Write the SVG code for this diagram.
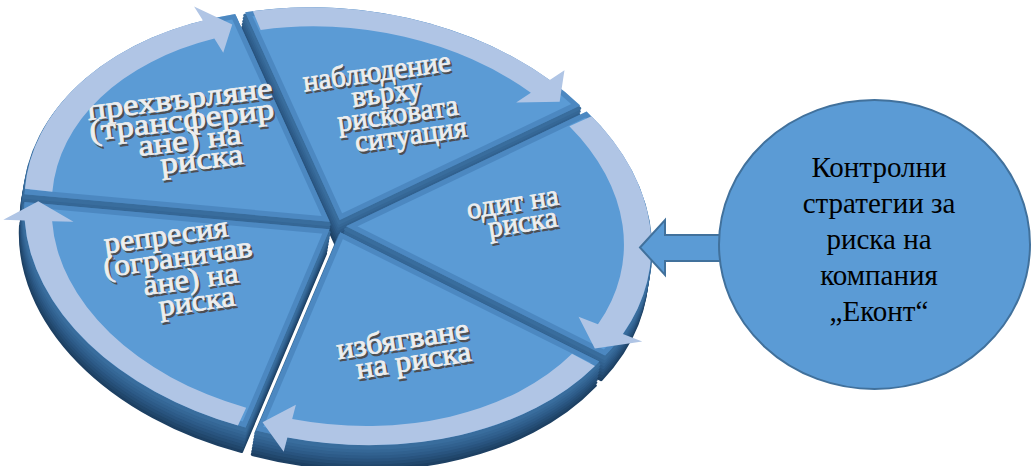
<svg xmlns="http://www.w3.org/2000/svg" width="1032" height="466" viewBox="0 0 1032 466">
  <defs>
    <style>
      .face{fill:#5b9bd5}
      .bevel{fill:none;stroke:#3a72a9;stroke-width:10;opacity:.45}
      .side use{stroke-width:3;stroke-linejoin:round}
      .d8{fill:#1d4063;stroke:#1d4063}
      .d7{fill:#21476c;stroke:#21476c}
      .d6{fill:#254e76;stroke:#254e76}
      .d5{fill:#29547f;stroke:#29547f}
      .d4{fill:#2d5b88;stroke:#2d5b88}
      .d3{fill:#31618f;stroke:#31618f}
      .d2{fill:#356796;stroke:#356796}
      .d1{fill:#396d9d;stroke:#396d9d}
      .ring{fill:#b0c5e5}
      .lbl text{font-family:"Liberation Serif","Times New Roman",serif;font-size:30px;text-anchor:middle}
      .lbl .sh{fill:#4a3a2f;stroke:#4a3a2f;stroke-width:.8;opacity:.8}
      .lbl .tx{fill:#eeeeee;stroke:#eeeeee;stroke-width:.8}
      .blk{fill:#5b9bd5;stroke:#41719c;stroke-width:2}
      .ctext{font-family:"Liberation Serif","Times New Roman",serif;font-size:29px;fill:#000;text-anchor:middle}
    </style>
    <!-- pie sectors on a unit disc of radius 100, mapped onto the tilted ellipse by matrix -->
    <path id="s1" vector-effect="non-scaling-stroke" d="M0 0 L-99.86 5.23 A100 100 0 0 1 -39.07 -92.05 Z"/>
    <path id="s2" vector-effect="non-scaling-stroke" d="M0 0 L-39.07 -92.05 A100 100 0 0 1 73.14 -68.2 Z"/>
    <path id="s3" vector-effect="non-scaling-stroke" d="M0 0 L73.14 -68.2 A100 100 0 0 1 89.1 45.4 Z"/>
    <path id="s4" vector-effect="non-scaling-stroke" d="M0 0 L89.1 45.4 A100 100 0 0 1 -19.08 98.16 Z"/>
    <path id="s5" vector-effect="non-scaling-stroke" d="M0 0 L-19.08 98.16 A100 100 0 0 1 -99.86 5.23 Z"/>
    <!-- curved rim arrows -->
    <path id="a1" d="M-99.97 2.62 A100 100 0 0 1 -49.24 -87.04 L-52.69 -93.13 L-39.6 -86.9 L-41.36 -73.11 L-44.81 -79.2 A91 91 0 0 0 -90.97 2.38 Z"/>
    <path id="a2" d="M-36.65 -93.04 A100 100 0 0 1 62.25 -78.26 L66.61 -83.74 L66.34 -68.7 L52.29 -65.74 L56.65 -71.22 A91 91 0 0 0 -33.35 -84.67 Z"/>
    <path id="a3" d="M74.9 -66.26 A100 100 0 0 1 93.97 34.2 L100.55 36.6 L85.47 42.61 L78.93 28.73 L85.51 31.12 A91 91 0 0 0 68.16 -60.3 Z"/>
    <path id="a4" d="M87.88 47.72 A100 100 0 0 1 -8.72 99.62 L-9.33 106.59 L-17.4 93.9 L-7.32 83.68 L-7.93 90.65 A91 91 0 0 0 79.97 43.42 Z"/>
    <path id="a5" d="M-21.64 97.63 A100 100 0 0 1 -99.03 13.92 L-105.96 14.89 L-95.41 4.17 L-83.18 11.69 L-90.11 12.66 A91 91 0 0 0 -19.7 88.84 Z"/>
    <clipPath id="c1"><use href="#s1"/></clipPath>
    <clipPath id="c2"><use href="#s2"/></clipPath>
    <clipPath id="c3"><use href="#s3"/></clipPath>
    <clipPath id="c4"><use href="#s4"/></clipPath>
    <clipPath id="c5"><use href="#s5"/></clipPath>
  </defs>

  <!-- slice: monitoring -->
  <g id="node-monitoring" transform="translate(2.7,-5.9)">
    <g class="side">
      <use href="#s2" class="d8" transform="matrix(3.0418 0.3843 -0.2646 2.0943 333 250)"/>
      <use href="#s2" class="d7" transform="matrix(3.0418 0.3843 -0.2646 2.0943 333.5 247)"/>
      <use href="#s2" class="d6" transform="matrix(3.0418 0.3843 -0.2646 2.0943 334 244)"/>
      <use href="#s2" class="d5" transform="matrix(3.0418 0.3843 -0.2646 2.0943 334.5 241)"/>
      <use href="#s2" class="d4" transform="matrix(3.0418 0.3843 -0.2646 2.0943 335 238)"/>
      <use href="#s2" class="d3" transform="matrix(3.0418 0.3843 -0.2646 2.0943 335.5 235)"/>
      <use href="#s2" class="d2" transform="matrix(3.0418 0.3843 -0.2646 2.0943 336 232)"/>
      <use href="#s2" class="d1" transform="matrix(3.0418 0.3843 -0.2646 2.0943 336.5 229)"/>
    </g>
    <use href="#s2" class="face" transform="matrix(3.0418 0.3843 -0.2646 2.0943 337 226)"/>
    <g transform="matrix(3.0418 0.3843 -0.2646 2.0943 337 226)"><use href="#s2" class="bevel" clip-path="url(#c2)"/></g>
    <g class="lbl">
      <text class="sh" transform="translate(377.1,89.1) rotate(-8) scale(0.97,1)">наблюдение</text>
      <text class="tx" transform="translate(375.3,86.9) rotate(-8) scale(0.97,1)">наблюдение</text>
      <text class="sh" transform="translate(387.1,110.1) rotate(-8) scale(0.97,1)">върху</text>
      <text class="tx" transform="translate(385.3,107.9) rotate(-8) scale(0.97,1)">върху</text>
      <text class="sh" transform="translate(398.1,131.1) rotate(-8) scale(0.97,1)">рисковата</text>
      <text class="tx" transform="translate(396.3,128.9) rotate(-8) scale(0.97,1)">рисковата</text>
      <text class="sh" transform="translate(411.1,152.1) rotate(-8) scale(0.97,1)">ситуация</text>
      <text class="tx" transform="translate(409.3,149.9) rotate(-8) scale(0.97,1)">ситуация</text>
    </g>
  </g>

  <!-- slice: transfer -->
  <g id="node-transfer" transform="translate(-7.3,-4.3)">
    <g class="side">
      <use href="#s1" class="d8" transform="matrix(3.0418 0.3843 -0.2646 2.0943 333 250)"/>
      <use href="#s1" class="d7" transform="matrix(3.0418 0.3843 -0.2646 2.0943 333.5 247)"/>
      <use href="#s1" class="d6" transform="matrix(3.0418 0.3843 -0.2646 2.0943 334 244)"/>
      <use href="#s1" class="d5" transform="matrix(3.0418 0.3843 -0.2646 2.0943 334.5 241)"/>
      <use href="#s1" class="d4" transform="matrix(3.0418 0.3843 -0.2646 2.0943 335 238)"/>
      <use href="#s1" class="d3" transform="matrix(3.0418 0.3843 -0.2646 2.0943 335.5 235)"/>
      <use href="#s1" class="d2" transform="matrix(3.0418 0.3843 -0.2646 2.0943 336 232)"/>
      <use href="#s1" class="d1" transform="matrix(3.0418 0.3843 -0.2646 2.0943 336.5 229)"/>
    </g>
    <use href="#s1" class="face" transform="matrix(3.0418 0.3843 -0.2646 2.0943 337 226)"/>
    <g transform="matrix(3.0418 0.3843 -0.2646 2.0943 337 226)"><use href="#s1" class="bevel" clip-path="url(#c1)"/></g>
    <g class="lbl">
      <text class="sh" transform="translate(189.9,115.2) rotate(-7) scale(1.16,1)">прехвърляне</text>
      <text class="tx" transform="translate(188.1,113) rotate(-7) scale(1.16,1)">прехвърляне</text>
      <text class="sh" transform="translate(191.9,136.2) rotate(-7) scale(1.16,1)">(трансферир</text>
      <text class="tx" transform="translate(190.1,134) rotate(-7) scale(1.16,1)">(трансферир</text>
      <text class="sh" transform="translate(199.9,156.2) rotate(-7) scale(1.16,1)">ане) на</text>
      <text class="tx" transform="translate(198.1,154) rotate(-7) scale(1.16,1)">ане) на</text>
      <text class="sh" transform="translate(211.9,175.2) rotate(-7) scale(1.16,1)">риска</text>
      <text class="tx" transform="translate(210.1,173) rotate(-7) scale(1.16,1)">риска</text>
    </g>
  </g>

  <!-- slice: audit -->
  <g id="node-audit" transform="translate(9.1,0.3)">
    <g class="side">
      <use href="#s3" class="d8" transform="matrix(3.0418 0.3843 -0.2646 2.0943 333 250)"/>
      <use href="#s3" class="d7" transform="matrix(3.0418 0.3843 -0.2646 2.0943 333.5 247)"/>
      <use href="#s3" class="d6" transform="matrix(3.0418 0.3843 -0.2646 2.0943 334 244)"/>
      <use href="#s3" class="d5" transform="matrix(3.0418 0.3843 -0.2646 2.0943 334.5 241)"/>
      <use href="#s3" class="d4" transform="matrix(3.0418 0.3843 -0.2646 2.0943 335 238)"/>
      <use href="#s3" class="d3" transform="matrix(3.0418 0.3843 -0.2646 2.0943 335.5 235)"/>
      <use href="#s3" class="d2" transform="matrix(3.0418 0.3843 -0.2646 2.0943 336 232)"/>
      <use href="#s3" class="d1" transform="matrix(3.0418 0.3843 -0.2646 2.0943 336.5 229)"/>
    </g>
    <use href="#s3" class="face" transform="matrix(3.0418 0.3843 -0.2646 2.0943 337 226)"/>
    <g transform="matrix(3.0418 0.3843 -0.2646 2.0943 337 226)"><use href="#s3" class="bevel" clip-path="url(#c3)"/></g>
    <g class="lbl">
      <text class="sh" transform="translate(506.7,213.6) rotate(-9) scale(0.97,1)">одит на</text>
      <text class="tx" transform="translate(504.9,211.4) rotate(-9) scale(0.97,1)">одит на</text>
      <text class="sh" transform="translate(516.7,233.6) rotate(-9) scale(0.97,1)">риска</text>
      <text class="tx" transform="translate(514.9,231.4) rotate(-9) scale(0.97,1)">риска</text>
    </g>
  </g>

  <!-- slice: repression -->
  <g id="node-repression" transform="translate(-7.4,3.3)">
    <g class="side">
      <use href="#s5" class="d8" transform="matrix(3.0418 0.3843 -0.2646 2.0943 333 250)"/>
      <use href="#s5" class="d7" transform="matrix(3.0418 0.3843 -0.2646 2.0943 333.5 247)"/>
      <use href="#s5" class="d6" transform="matrix(3.0418 0.3843 -0.2646 2.0943 334 244)"/>
      <use href="#s5" class="d5" transform="matrix(3.0418 0.3843 -0.2646 2.0943 334.5 241)"/>
      <use href="#s5" class="d4" transform="matrix(3.0418 0.3843 -0.2646 2.0943 335 238)"/>
      <use href="#s5" class="d3" transform="matrix(3.0418 0.3843 -0.2646 2.0943 335.5 235)"/>
      <use href="#s5" class="d2" transform="matrix(3.0418 0.3843 -0.2646 2.0943 336 232)"/>
      <use href="#s5" class="d1" transform="matrix(3.0418 0.3843 -0.2646 2.0943 336.5 229)"/>
    </g>
    <use href="#s5" class="face" transform="matrix(3.0418 0.3843 -0.2646 2.0943 337 226)"/>
    <g transform="matrix(3.0418 0.3843 -0.2646 2.0943 337 226)"><use href="#s5" class="bevel" clip-path="url(#c5)"/></g>
    <g class="lbl">
      <text class="sh" transform="translate(176.2,243.6) rotate(-8) scale(1.07,1)">репресия</text>
      <text class="tx" transform="translate(174.4,241.4) rotate(-8) scale(1.07,1)">репресия</text>
      <text class="sh" transform="translate(188.2,265.6) rotate(-8) scale(1.07,1)">(ограничав</text>
      <text class="tx" transform="translate(186.4,263.4) rotate(-8) scale(1.07,1)">(ограничав</text>
      <text class="sh" transform="translate(201.2,287.6) rotate(-8) scale(1.07,1)">ане) на</text>
      <text class="tx" transform="translate(199.4,285.4) rotate(-8) scale(1.07,1)">ане) на</text>
      <text class="sh" transform="translate(207.2,309.6) rotate(-8) scale(1.07,1)">риска</text>
      <text class="tx" transform="translate(205.4,307.4) rotate(-8) scale(1.07,1)">риска</text>
    </g>
  </g>

  <!-- slice: avoidance -->
  <g id="node-avoidance" transform="translate(3.3,6.2)">
    <g class="side">
      <use href="#s4" class="d8" transform="matrix(3.0418 0.3843 -0.2646 2.0943 333 250)"/>
      <use href="#s4" class="d7" transform="matrix(3.0418 0.3843 -0.2646 2.0943 333.5 247)"/>
      <use href="#s4" class="d6" transform="matrix(3.0418 0.3843 -0.2646 2.0943 334 244)"/>
      <use href="#s4" class="d5" transform="matrix(3.0418 0.3843 -0.2646 2.0943 334.5 241)"/>
      <use href="#s4" class="d4" transform="matrix(3.0418 0.3843 -0.2646 2.0943 335 238)"/>
      <use href="#s4" class="d3" transform="matrix(3.0418 0.3843 -0.2646 2.0943 335.5 235)"/>
      <use href="#s4" class="d2" transform="matrix(3.0418 0.3843 -0.2646 2.0943 336 232)"/>
      <use href="#s4" class="d1" transform="matrix(3.0418 0.3843 -0.2646 2.0943 336.5 229)"/>
    </g>
    <use href="#s4" class="face" transform="matrix(3.0418 0.3843 -0.2646 2.0943 337 226)"/>
    <g transform="matrix(3.0418 0.3843 -0.2646 2.0943 337 226)"><use href="#s4" class="bevel" clip-path="url(#c4)"/></g>
    <g class="lbl">
      <text class="sh" transform="translate(402.5,344.7) rotate(-9) scale(1.07,1)">избягване</text>
      <text class="tx" transform="translate(400.7,342.5) rotate(-9) scale(1.07,1)">избягване</text>
      <text class="sh" transform="translate(413.5,365.7) rotate(-9) scale(1.07,1)">на риска</text>
      <text class="tx" transform="translate(411.7,363.5) rotate(-9) scale(1.07,1)">на риска</text>
    </g>
  </g>

  <g id="connectors">
    <!-- cycle arrows along the rim -->
    <use href="#a2" class="ring" transform="translate(2.7,-5.9) matrix(3.0418 0.3843 -0.2646 2.0943 337 226)"/>
    <use href="#a1" class="ring" transform="translate(-7.3,-4.3) matrix(3.0418 0.3843 -0.2646 2.0943 337 226)"/>
    <use href="#a3" class="ring" transform="translate(9.1,0.3) matrix(3.0418 0.3843 -0.2646 2.0943 337 226)"/>
    <use href="#a5" class="ring" transform="translate(-7.4,3.3) matrix(3.0418 0.3843 -0.2646 2.0943 337 226)"/>
    <use href="#a4" class="ring" transform="translate(3.3,6.2) matrix(3.0418 0.3843 -0.2646 2.0943 337 226)"/>
    <!-- block arrow from the strategy circle to the pie -->
    <polygon class="blk" points="640,247.5 665,220 665,235 721,235 721,261 665,261 665,275"/>
  </g>

  <g id="node-strategies">
    <ellipse class="blk" cx="874.5" cy="244.5" rx="155.5" ry="144.5"/>
    <text class="ctext" x="879" y="177">Контролни</text>
    <text class="ctext" x="879" y="213">стратегии за</text>
    <text class="ctext" x="879" y="249">риска на</text>
    <text class="ctext" x="879" y="285">компания</text>
    <text class="ctext" x="879" y="321">„Еконт“</text>
  </g>
</svg>
